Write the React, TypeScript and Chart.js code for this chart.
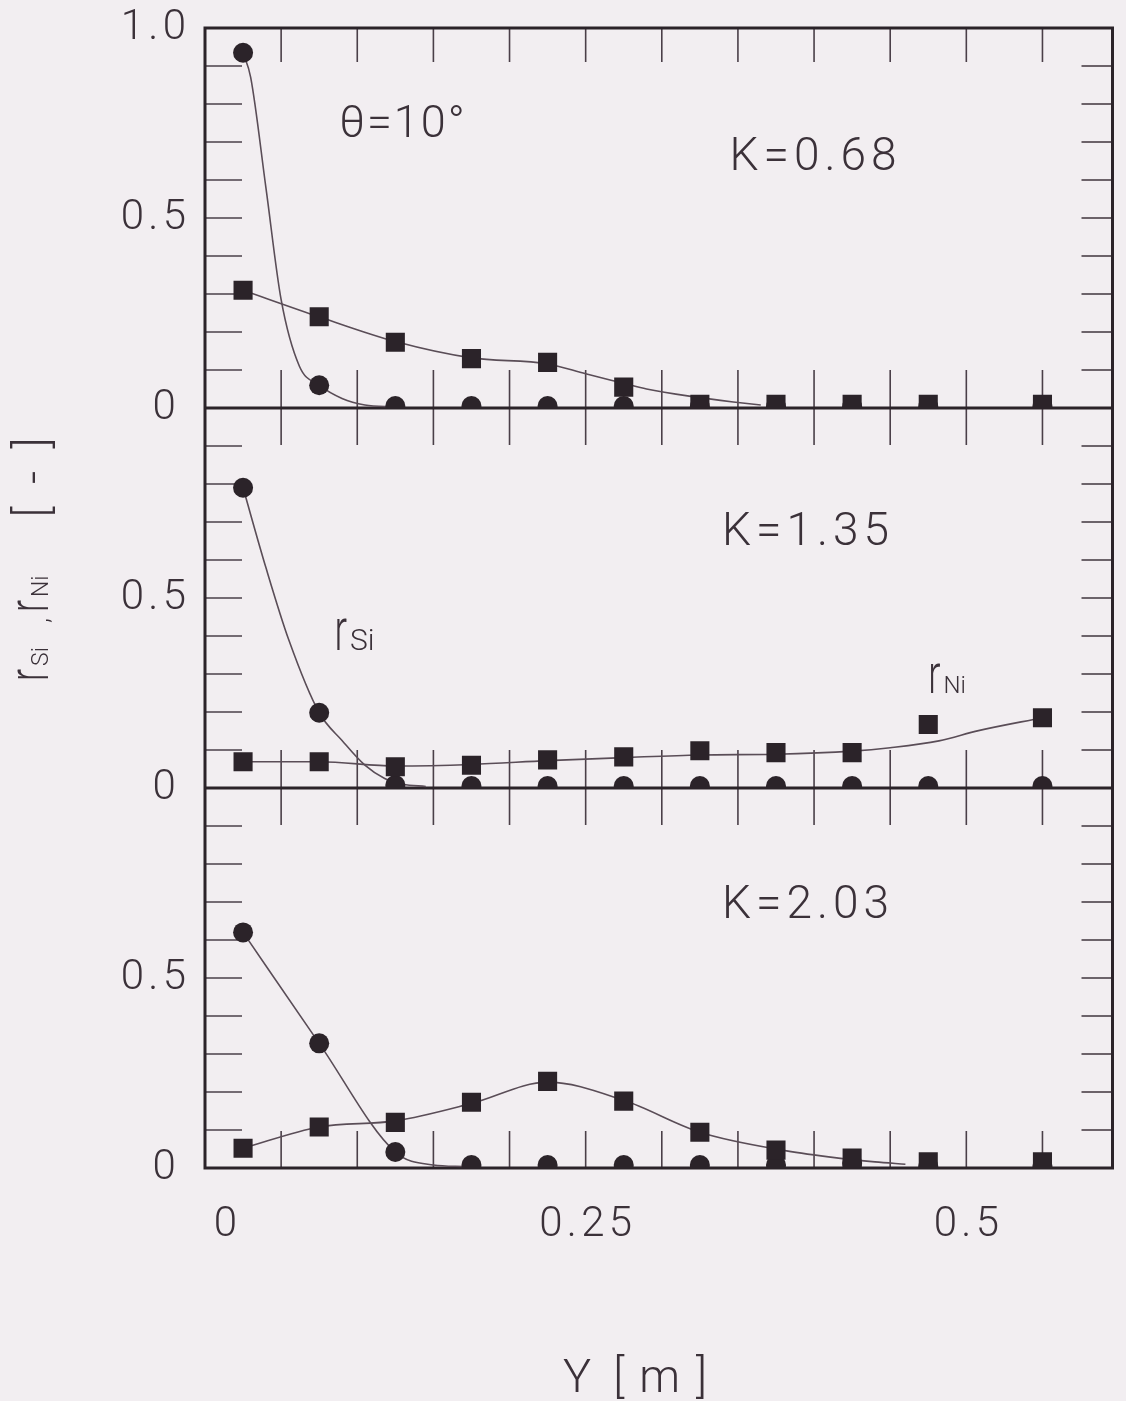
import React, { useEffect, useRef } from 'react';
import { Chart, registerables } from 'chart.js';

Chart.register(...registerables);

// ---------- data ----------
const yPositions = [0.025, 0.075, 0.125, 0.175, 0.225, 0.275, 0.325, 0.375, 0.425, 0.475, 0.55];

// K = 0.68 panel
const rSiK068 = [0.935, 0.06, 0.005, 0.005, 0.005, 0.005, 0.004, 0.004, 0.004, 0.004, 0.004];
const rNiK068 = [0.31, 0.24, 0.173, 0.13, 0.12, 0.055, 0.01, 0.01, 0.01, 0.01, 0.01];
const rSiCurveXK068 = [0.025, 0.03, 0.04, 0.05, 0.062, 0.075, 0.09, 0.105, 0.125];
const rSiCurveYK068 = [0.935, 0.87, 0.58, 0.285, 0.11, 0.06, 0.025, 0.008, 0.003];
const rNiCurveXK068 = [0.025, 0.075, 0.125, 0.175, 0.225, 0.25, 0.275, 0.29, 0.32, 0.347, 0.365];
const rNiCurveYK068 = [0.31, 0.24, 0.175, 0.132, 0.116, 0.09, 0.065, 0.05, 0.03, 0.016, 0.008];

// K = 1.35 panel
const rSiK135 = [0.79, 0.198, 0.008, 0.005, 0.005, 0.005, 0.005, 0.005, 0.005, 0.005, 0.005];
const rNiK135 = [0.069, 0.069, 0.056, 0.06, 0.074, 0.082, 0.098, 0.093, 0.093, 0.167, 0.185];
const rSiCurveXK135 = [0.025, 0.04, 0.055, 0.075, 0.09, 0.105, 0.118, 0.13, 0.145];
const rSiCurveYK135 = [0.79, 0.58, 0.39, 0.198, 0.125, 0.06, 0.025, 0.01, 0.004];
const rNiCurveXK135 = [0.025, 0.075, 0.125, 0.175, 0.225, 0.275, 0.325, 0.375, 0.425, 0.45, 0.482, 0.508, 0.55];
const rNiCurveYK135 = [0.069, 0.069, 0.058, 0.062, 0.072, 0.08, 0.087, 0.089, 0.097, 0.106, 0.124, 0.151, 0.185];

// K = 2.03 panel
const rSiK203 = [0.62, 0.328, 0.042, 0.008, 0.008, 0.008, 0.008, 0.008, 0.013, 0.005, 0.005];
const rNiK203 = [0.052, 0.108, 0.12, 0.173, 0.228, 0.176, 0.094, 0.047, 0.026, 0.016, 0.016];
const rSiCurveXK203 = [0.025, 0.075, 0.125, 0.15, 0.17];
const rSiCurveYK203 = [0.62, 0.328, 0.042, 0.008, 0.004];
const rNiCurveXK203 = [0.025, 0.075, 0.125, 0.175, 0.225, 0.275, 0.325, 0.382, 0.416, 0.44, 0.46];
const rNiCurveYK203 = [0.052, 0.108, 0.124, 0.17, 0.226, 0.178, 0.094, 0.045, 0.026, 0.016, 0.01];

// axes
const xMin = 0;
const xMax = 0.596;
const xTickValues = [0, 0.05, 0.1, 0.15, 0.2, 0.25, 0.3, 0.35, 0.4, 0.45, 0.5, 0.55];
const xTickLabels = [0, 0.25, 0.5];
const yMin = 0;
const yMax = 1;
const yTickValues = [0, 0.1, 0.2, 0.3, 0.4, 0.5, 0.6, 0.7, 0.8, 0.9, 1];
const yTickLabelsTop = [0, 0.5, 1];
const yTickLabelsOther = [0, 0.5];

// ---------- styles ----------
const BG = '#f2eef1';
const INK = '#2b2329';
const TEXT = '#3b3139';
const CURVE = '#5a4d57';
const FONT = 'Roboto, "Open Sans", "DejaVu Sans", sans-serif';
const HS = '\u200A';

const panelIds = ['yA', 'yB', 'yC'];

type Part = { t: string; size: number; sx?: number; gap?: number; dy?: number };

function drawRich(ctx: CanvasRenderingContext2D, parts: Part[]) {
  let cx = 0;
  for (const p of parts) {
    cx += p.gap || 0;
    ctx.font = `300 ${p.size}px ${FONT}`;
    const w = ctx.measureText(p.t).width * (p.sx || 1);
    ctx.save();
    ctx.translate(cx, p.dy || 0);
    ctx.scale(p.sx || 1, 1);
    ctx.fillText(p.t, 0, 0);
    ctx.restore();
    cx += w;
  }
}

const annotations: { axis: string; x: number; y: number; parts: Part[]; align: 'center' | 'left'; spacing?: string }[] = [
  { axis: 'yA', x: 0.13, y: 0.714, align: 'center', spacing: '2px', parts: [{ t: 'θ=10°', size: 45 }] },
  { axis: 'yA', x: 0.401, y: 0.627, align: 'center', spacing: '5px', parts: [{ t: 'K=0.68', size: 46 }] },
  { axis: 'yB', x: 0.396, y: 0.639, align: 'center', spacing: '5px', parts: [{ t: 'K=1.35', size: 46 }] },
  { axis: 'yC', x: 0.396, y: 0.658, align: 'center', spacing: '5px', parts: [{ t: 'K=2.03', size: 46 }] },
  { axis: 'yB', x: 0.085, y: 0.363, align: 'left', parts: [{ t: 'r', size: 60, sx: 0.62 }, { t: 'Si', size: 30, gap: 3 }] },
  { axis: 'yB', x: 0.475, y: 0.25, align: 'left', parts: [{ t: 'r', size: 56, sx: 0.65 }, { t: 'Ni', size: 24, gap: 3 }] },
];

const yTitleParts: Part[] = [
  { t: 'r', size: 58, sx: 0.62 },
  { t: 'Si', size: 23, gap: 3 },
  { t: ',', size: 26, gap: 24 },
  { t: 'r', size: 58, sx: 0.62, gap: 6 },
  { t: 'Ni', size: 23, gap: 3 },
  { t: '[  -  ]', size: 46, gap: 58 },
];

const xTitleParts: Part[] = [
  { t: 'Y', size: 47 },
  { t: '[', size: 46, gap: 22 },
  { t: 'm', size: 46, gap: 15 },
  { t: ']', size: 46, gap: 16 },
];

const decorPlugin = {
  id: 'decor',
  beforeDraw(chart: any) {
    const { ctx, width, height } = chart;
    ctx.save();
    ctx.fillStyle = BG;
    ctx.fillRect(0, 0, width, height);
    ctx.restore();
  },
  beforeDatasetsDraw(chart: any) {
    const { ctx, chartArea: a, scales } = chart;
    const xs = scales.x;
    const seg = (x1: number, y1: number, x2: number, y2: number) => {
      ctx.beginPath();
      ctx.moveTo(x1, y1);
      ctx.lineTo(x2, y2);
      ctx.stroke();
    };
    ctx.save();
    ctx.strokeStyle = '#4a3f48';
    ctx.lineWidth = 1.6;
    for (const id of panelIds) {
      const s = scales[id];
      for (const t of s.ticks) {
        if (t.value <= s.min + 1e-9 || t.value >= s.max - 1e-9) continue;
        const py = s.getPixelForValue(t.value);
        seg(a.left, py, a.left + 37, py);
        seg(a.right - 31, py, a.right, py);
      }
    }
    const zeroYs = panelIds.map((id) => scales[id].getPixelForValue(0));
    for (const t of xs.ticks) {
      if (t.value <= xs.min + 1e-9 || t.value >= xs.max - 1e-9) continue;
      const px = xs.getPixelForValue(t.value);
      seg(px, a.top, px, a.top + 34);
      zeroYs.forEach((zy: number, i: number) => {
        if (i < zeroYs.length - 1) seg(px, zy - 38, px, zy + 37);
        else seg(px, zy - 37, px, zy);
      });
    }
    ctx.strokeStyle = INK;
    ctx.lineWidth = 3;
    ctx.strokeRect(a.left, a.top, a.right - a.left, a.bottom - a.top);
    zeroYs.slice(0, -1).forEach((zy: number) => seg(a.left, zy, a.right, zy));
    ctx.restore();
  },
  afterDraw(chart: any) {
    const { ctx, scales, chartArea: a } = chart;
    ctx.save();
    ctx.fillStyle = TEXT;
    ctx.textBaseline = 'alphabetic';
    for (const an of annotations) {
      const px = scales.x.getPixelForValue(an.x);
      const py = scales[an.axis].getPixelForValue(an.y);
      ctx.save();
      (ctx as any).letterSpacing = an.spacing || '0px';
      if (an.align === 'center') {
        const p = an.parts[0];
        ctx.font = `300 ${p.size}px ${FONT}`;
        ctx.textAlign = 'center';
        ctx.fillText(p.t, px, py);
      } else {
        ctx.textAlign = 'left';
        ctx.translate(px, py);
        drawRich(ctx, an.parts);
      }
      ctx.restore();
    }
    // rotated y-axis title
    const mid = (scales.yB.top + scales.yB.bottom) / 2;
    ctx.save();
    ctx.textAlign = 'left';
    ctx.translate(a.left - 157, mid + 83);
    ctx.rotate(-Math.PI / 2);
    drawRich(ctx, yTitleParts);
    ctx.restore();
    // x-axis title
    ctx.save();
    ctx.textAlign = 'left';
    ctx.translate(a.left + 358, a.bottom + 224);
    drawRich(ctx, xTitleParts);
    ctx.restore();
    ctx.restore();
  },
};

const pts = (xs: number[], ys: number[]) => xs.map((x, i) => ({ x, y: ys[i] }));

export default function App() {
  const ref = useRef<HTMLCanvasElement | null>(null);
  useEffect(() => {
    if (!ref.current) return;
    const panels = [
      { id: 'yA', si: rSiK068, ni: rNiK068, sx: rSiCurveXK068, sy: rSiCurveYK068, nx: rNiCurveXK068, ny: rNiCurveYK068 },
      { id: 'yB', si: rSiK135, ni: rNiK135, sx: rSiCurveXK135, sy: rSiCurveYK135, nx: rNiCurveXK135, ny: rNiCurveYK135 },
      { id: 'yC', si: rSiK203, ni: rNiK203, sx: rSiCurveXK203, sy: rSiCurveYK203, nx: rNiCurveXK203, ny: rNiCurveYK203 },
    ];
    const datasets: any[] = [];
    panels.forEach((p) => {
      datasets.push({
        label: 'rNi ' + p.id, data: pts(yPositions, p.ni), yAxisID: p.id, order: 0, showLine: false,
        pointStyle: 'rect', pointRadius: 13.5, backgroundColor: INK, borderColor: INK, borderWidth: 0,
      });
      datasets.push({
        label: 'rSi ' + p.id, data: pts(yPositions, p.si), yAxisID: p.id, order: 1, showLine: false,
        pointStyle: 'circle', pointRadius: 10, backgroundColor: INK, borderColor: INK, borderWidth: 0,
      });
      datasets.push({
        label: 'rSi curve ' + p.id, data: pts(p.sx, p.sy), yAxisID: p.id, order: 2, showLine: true,
        pointRadius: 0, borderColor: CURVE, borderWidth: 1.6, cubicInterpolationMode: 'monotone', fill: false,
      });
      datasets.push({
        label: 'rNi curve ' + p.id, data: pts(p.nx, p.ny), yAxisID: p.id, order: 2, showLine: true,
        pointRadius: 0, borderColor: CURVE, borderWidth: 1.6, cubicInterpolationMode: 'monotone', fill: false,
      });
    });

    const tickFont = { family: FONT, size: 42, weight: '300' as any, lineHeight: 1 };
    const near = (a: number, b: number) => Math.abs(a - b) < 1e-6;
    const spaced = (s: string) => s.split('').join(HS);
    const yScale = (labels: number[]) => ({
      type: 'linear',
      position: 'left',
      stack: 'panels',
      stackWeight: 1,
      min: yMin,
      max: yMax,
      afterBuildTicks: (s: any) => { s.ticks = yTickValues.map((value) => ({ value })); },
      afterFit: (s: any) => { s.width = 205; },
      grid: { display: false, drawTicks: true, tickLength: 19 },
      border: { display: false },
      ticks: {
        autoSkip: false,
        padding: 0,
        color: TEXT,
        font: tickFont,
        callback: (v: any) => {
          const n = Number(v);
          if (!labels.some((l) => near(l, n))) return '';
          if (near(n, 0)) return '0 ';
          if (near(n, 1)) return spaced('1.0');
          return spaced(String(n));
        },
      },
    });

    const chart = new Chart(ref.current, {
      type: 'scatter',
      data: { datasets },
      plugins: [decorPlugin as any],
      options: {
        responsive: false,
        maintainAspectRatio: false,
        animation: false,
        devicePixelRatio: 1,
        layout: { padding: { top: 28, right: 8, left: 0, bottom: 0 } },
        plugins: { legend: { display: false }, tooltip: { enabled: false } },
        scales: {
          x: {
            type: 'linear',
            position: 'bottom',
            min: xMin,
            max: xMax,
            afterBuildTicks: (s: any) => { s.ticks = xTickValues.map((value) => ({ value })); },
            afterFit: (s: any) => { s.height = 233; s.paddingRight = 0; s.paddingLeft = 0; },
            grid: { display: false, drawTicks: true, tickLength: 36 },
            border: { display: false },
            ticks: {
              autoSkip: false,
              maxRotation: 0,
              padding: 0,
              color: TEXT,
              font: tickFont,
              callback: (v: any) => {
                const n = Number(v);
                if (!xTickLabels.some((l) => near(l, n))) return '';
                if (near(n, 0)) return '    0';
                return spaced(String(n));
              },
            },
            title: { display: false },
          },
          yC: yScale(yTickLabelsOther) as any,
          yB: yScale(yTickLabelsOther) as any,
          yA: yScale(yTickLabelsTop) as any,
        },
      } as any,
    });
    return () => chart.destroy();
  }, []);

  return (
    <div style={{ position: 'absolute', left: 0, top: 0, width: 1126, height: 1401, background: BG }}>
      <canvas ref={ref} width={1126} height={1401} style={{ display: 'block' }} />
    </div>
  );
}
